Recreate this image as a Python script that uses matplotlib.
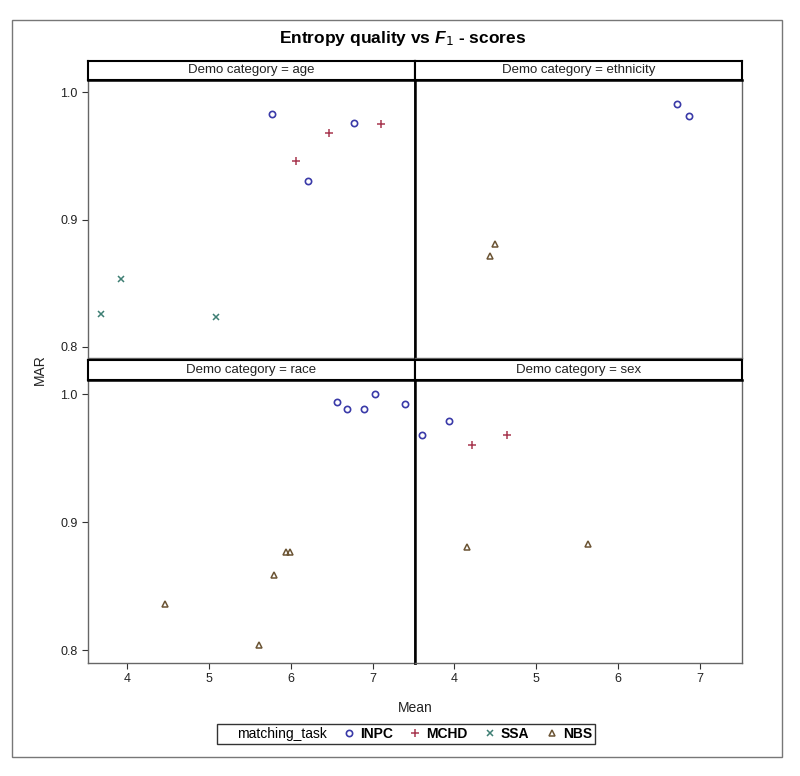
import matplotlib
matplotlib.use('Agg')
import matplotlib.pyplot as plt
from matplotlib.lines import Line2D
from matplotlib.patches import Rectangle

# --- data (Mean, MAR) ---
PANELS = ["age", "ethnicity", "race", "sex"]
TASKS = ["INPC", "MCHD", "SSA", "NBS"]

age_inpc_x = [5.76, 6.76, 6.20]
age_inpc_y = [0.983, 0.976, 0.930]
age_mchd_x = [6.06, 6.46, 7.10]
age_mchd_y = [0.946, 0.968, 0.975]
age_ssa_x = [3.68, 3.92, 5.08]
age_ssa_y = [0.826, 0.853, 0.823]

eth_inpc_x = [6.72, 6.86]
eth_inpc_y = [0.991, 0.981]
eth_nbs_x = [4.50, 4.44]
eth_nbs_y = [0.881, 0.871]

race_inpc_x = [6.56, 6.68, 6.89, 7.02, 7.39]
race_inpc_y = [0.994, 0.988, 0.988, 1.000, 0.992]
race_nbs_x = [4.46, 5.61, 5.79, 5.93, 5.98]
race_nbs_y = [0.836, 0.804, 0.859, 0.877, 0.877]

sex_inpc_x = [3.60, 3.94]
sex_inpc_y = [0.968, 0.979]
sex_mchd_x = [4.22, 4.64]
sex_mchd_y = [0.960, 0.968]
sex_nbs_x = [4.16, 5.63]
sex_nbs_y = [0.881, 0.883]

panel_data = {
    "age": {"INPC": (age_inpc_x, age_inpc_y), "MCHD": (age_mchd_x, age_mchd_y),
            "SSA": (age_ssa_x, age_ssa_y)},
    "ethnicity": {"INPC": (eth_inpc_x, eth_inpc_y), "NBS": (eth_nbs_x, eth_nbs_y)},
    "race": {"INPC": (race_inpc_x, race_inpc_y), "NBS": (race_nbs_x, race_nbs_y)},
    "sex": {"INPC": (sex_inpc_x, sex_inpc_y), "MCHD": (sex_mchd_x, sex_mchd_y),
            "NBS": (sex_nbs_x, sex_nbs_y)},
}

X_TICKS = [4, 5, 6, 7]
Y_TICKS = [0.8, 0.9, 1.0]

# marker styles per task
STYLE = {
    "INPC": dict(marker='o', color='#3a3aa8', ms=4.5, mfc='none', mew=1.2),
    "MCHD": dict(marker='+', color='#a83850', ms=6, mew=1.1),
    "SSA":  dict(marker='x', color='#3e7f74', ms=4.5, mew=1.1),
    "NBS":  dict(marker='^', color='#6b5434', ms=4.5, mfc='none', mew=1.1),
}

NARROW = ['Liberation Sans Narrow', 'Liberation Sans', 'DejaVu Sans']
plt.rcParams['font.family'] = ['Liberation Sans', 'DejaVu Sans']
plt.rcParams['mathtext.fontset'] = 'custom'
plt.rcParams['mathtext.it'] = 'Liberation Sans:italic:bold'

W, H = 800, 776
fig = plt.figure(figsize=(W / 100, H / 100), dpi=100)


def fx(px):
    return px / W


def fy(py):
    return 1 - py / H


# outer frame
fig.patches.append(Rectangle((fx(12), fy(757)), fx(770), (737) / H,
                             transform=fig.transFigure, fill=False,
                             edgecolor='#777777', lw=1.0))

fig.text(fx(403), fy(38), r"Entropy quality vs $\mathit{F}_{\mathit{1}}$ - scores",
         ha='center', va='center', fontsize=12.5, fontweight='bold', family=NARROW)

# panel geometry in pixels: (left, right) and (top, bottom, header_top)
cols = [(88, 415), (415, 742)]
rows = [(80, 358, 61, (0.7911, 1.0097)), (380, 663, 360, (0.7902, 1.0110))]

for i, name in enumerate(PANELS):
    r, c = divmod(i, 2)
    x0, x1 = cols[c]
    top, bot, htop, ylim = rows[r]
    ax = fig.add_axes([fx(x0), fy(bot), (x1 - x0) / W, (bot - top) / H])
    for task, (xs, ys) in panel_data[name].items():
        ax.plot(xs, ys, linestyle='none', **STYLE[task])
    ax.set_xlim(3.52, 7.51)
    ax.set_ylim(*ylim)
    ax.set_xticks(X_TICKS)
    ax.set_yticks(Y_TICKS)
    ax.tick_params(direction='out', length=4, width=0.8, color='#333333',
                   labelsize=9, labelcolor='#222222')
    if c == 0:
        ax.set_yticklabels([f"{v:.1f}" for v in Y_TICKS])
    else:
        ax.tick_params(left=False, labelleft=False)
    if r == 1:
        ax.set_xticklabels([str(v) for v in X_TICKS])
    else:
        ax.tick_params(bottom=False, labelbottom=False)
    for s in ax.spines.values():
        s.set_color('#666666')
        s.set_linewidth(1.0)
    if c == 0:
        ax.spines['right'].set_color('black')
        ax.spines['right'].set_linewidth(1.8)
    else:
        ax.spines['left'].set_color('black')
        ax.spines['left'].set_linewidth(1.8)
    ax.spines['top'].set_color('black')
    ax.spines['top'].set_linewidth(1.8)

    # header strip
    hax = fig.add_axes([fx(x0), fy(top), (x1 - x0) / W, (top - htop) / H])
    hax.set_xticks([])
    hax.set_yticks([])
    for s in hax.spines.values():
        s.set_color('black')
        s.set_linewidth(1.5)
    hax.text(0.5, 0.5, f"Demo category = {name}", ha='center', va='center',
             fontsize=9.5, family=NARROW, color='#222222', transform=hax.transAxes)

fig.text(fx(40), fy(370), "MAR", rotation=90, ha='center', va='center', fontsize=10,
         color='#222222')
fig.text(fx(415), fy(708), "Mean", ha='center', va='center', fontsize=10, color='#222222')

handles = [Line2D([], [], linestyle='none', label='matching_task')]
for task in TASKS:
    handles.append(Line2D([], [], linestyle='none', label=task, **STYLE[task]))
leg = fig.legend(handles=handles, loc='center', bbox_to_anchor=(fx(406), fy(734)),
                 ncol=5, frameon=True, fancybox=False, edgecolor='black',
                 fontsize=10, handlelength=0.8, handletextpad=0.4, columnspacing=1.2,
                 borderpad=0.25)
leg.get_frame().set_linewidth(1.0)
for t in leg.get_texts()[1:]:
    t.set_fontweight('bold')

fig.savefig("out.png", dpi=100)
